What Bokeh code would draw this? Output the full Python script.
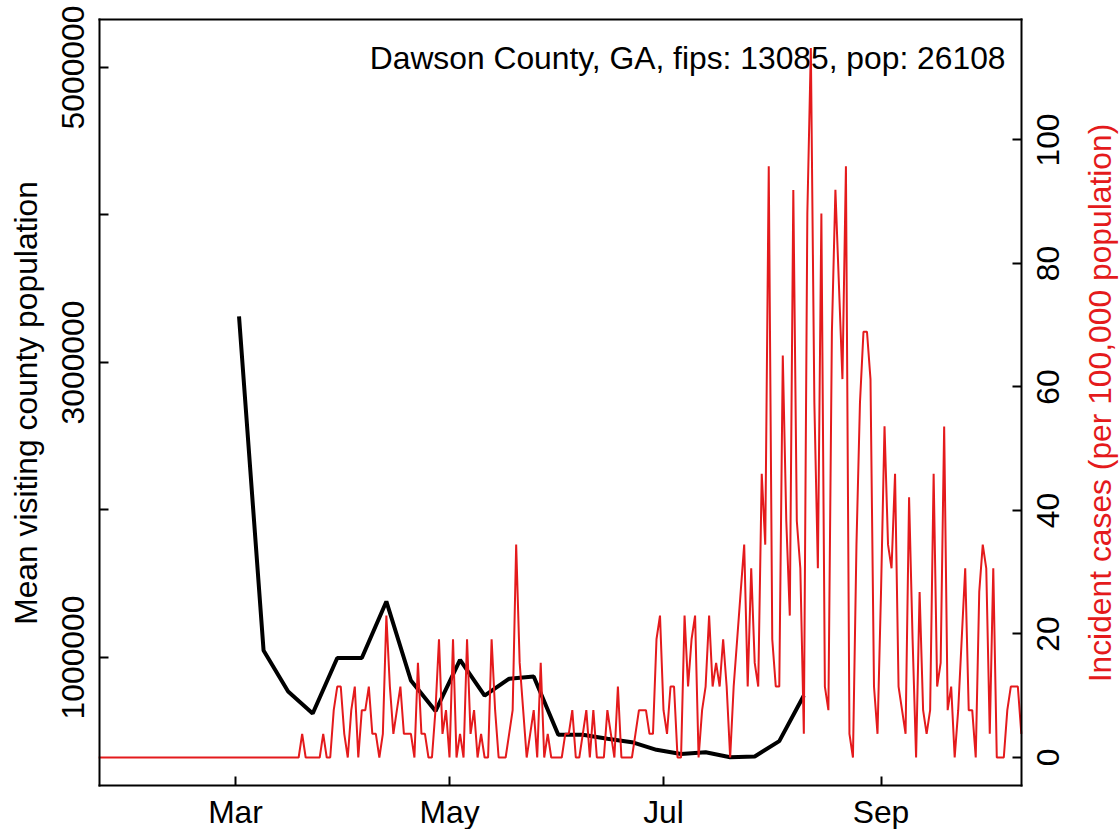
import math
import pandas as pd
from bokeh.plotting import figure
from bokeh.models import Range1d, LinearAxis, FixedTicker, Label, BasicTickFormatter
from bokeh.embed import file_html
from bokeh.resources import INLINE

# ---------------- data ----------------
origin = "2020-03-01"
x_tick_dates = ["2020-03-01", "2020-05-01", "2020-07-01", "2020-09-01"]
x_tick_labels = ["Mar", "May", "Jul", "Sep"]

left_ticks = [1000000, 3000000, 5000000]
left_minor_ticks = [2000000, 4000000]
right_ticks = [0, 20, 40, 60, 80, 100]

# daily incident cases per 100,000 population, starting 2020-01-22
red_start = "2020-01-22"
red_cases = [
    0, 0, 0, 0, 0, 0, 0, 0, 0, 0, 0, 0, 0, 0, 0, 0, 0, 0, 0, 0,
    0, 0, 0, 0, 0, 0, 0, 0, 0, 0, 0, 0, 0, 0, 0, 0, 0, 0, 0, 0,
    0, 0, 0, 0, 0, 0, 0, 0, 0, 0, 0, 0, 0, 0, 0, 0, 0, 0,
    3.83, 0, 0, 0, 0, 0, 3.83, 0, 0, 7.66, 11.49, 11.49, 3.83, 0, 7.66, 11.49,
    0, 7.66, 7.66, 11.49, 3.83, 3.83, 0, 3.83, 22.98, 11.49, 3.83, 7.66, 11.49,
    3.83, 3.83, 3.83, 0, 15.32, 3.83, 3.83, 0, 0, 7.66, 19.15, 3.83, 7.66, 0,
    19.15, 0, 3.83, 0, 19.15, 3.83, 7.66, 0, 3.83, 0, 0, 19.15, 7.66, 0, 0, 0,
    3.83, 7.66, 34.47, 15.32, 7.66, 0, 3.83, 7.66, 0, 15.32, 0, 3.83, 0, 0, 0,
    0, 3.83, 3.83, 7.66, 0, 0, 3.83, 7.66, 0, 7.66, 0, 0, 0, 7.66, 3.83, 0,
    11.49, 0, 0, 0, 0, 3.83, 7.66, 7.66, 7.66, 3.83, 3.83, 19.15, 22.98, 7.66,
    3.83, 11.49, 11.49, 0, 0, 22.98, 11.49, 19.15, 22.98, 0, 7.66, 11.49, 22.98,
    11.49, 15.32, 11.49, 19.15, 11.49, 0, 11.49, 19.15, 26.81, 34.47, 11.49,
    30.64, 15.32, 11.49, 45.96, 34.47, 95.75, 19.15, 11.49, 11.49, 65.11, 38.30,
    22.98, 91.92, 38.30, 30.64, 3.83, 88.09, 114.91, 57.45, 30.64, 88.09, 11.49,
    7.66, 68.94, 91.92, 76.60, 61.28, 95.75, 3.83, 0, 34.47, 57.45, 68.94, 68.94,
    61.28, 11.49, 3.83, 26.81, 53.62, 34.47, 30.64, 45.96, 11.49, 7.66, 3.83,
    42.13, 19.15, 0, 26.81, 7.66, 3.83, 7.66, 45.96, 11.49, 15.32, 53.62, 7.66,
    11.49, 0, 7.66, 19.15, 30.64, 7.66, 7.66, 0, 26.81, 34.47, 30.64, 3.83,
    30.64, 0, 0, 0, 7.66, 11.49, 11.49, 11.49, 3.83,
]

# weekly mean visiting county population, starting 2020-03-02
black_start = "2020-03-02"
black_visitors = [
    3312000, 1047000, 769000, 620000, 997000, 997000, 1380000, 844000,
    637000, 984000, 742000, 856000, 871000, 476000, 476000, 449000,
    426000, 374000, 346000, 358000, 324000, 329000, 433000, 742000,
]

title_text = "Dawson County, GA, fips: 13085, pop: 26108"
left_title = "Mean visiting county population"
right_title = "Incident cases (per 100,000 population)"

# ---------------- derived x positions (days since 1 March) ----------------
o = pd.Timestamp(origin)
red_x = list((pd.date_range(red_start, periods=len(red_cases), freq="D") - o).days)
black_x = list((pd.date_range(black_start, periods=len(black_visitors), freq="7D") - o).days)
tick_x = [(pd.Timestamp(d) - o).days for d in x_tick_dates]

# ---------------- layout constants ----------------
W, H = 1119, 829
FONT = "Liberation Sans"
FS = "31.8px"
RED = "#E41A1C"

# plot box (R's plotting region) in data units
BOX_X = (-38.77, 223.96)
BOX_Y = (132200, 5325400)
BOX_C = (-4.534, 119.51)

# the frame spans the whole canvas; the R box is drawn with bounded axes
p = figure(width=W, height=H, output_backend="svg", toolbar_location=None,
           x_range=Range1d(-66.99, 251.98), y_range=Range1d(-166100, 5454200),
           min_border_left=0, min_border_right=0, min_border_top=0,
           min_border_bottom=0)
p.extra_y_ranges = {"cases": Range1d(-11.66, 122.59)}
p.xgrid.visible = False
p.ygrid.visible = False
p.outline_line_color = None
p.background_fill_color = "white"
p.border_fill_color = "white"


def style_axis(ax, standoff):
    ax.axis_line_color = "black"
    ax.axis_line_width = 2
    ax.axis_line_cap = "square"
    ax.major_tick_in = 9
    ax.major_tick_out = 0
    ax.major_tick_line_width = 2
    ax.major_tick_line_color = "black"
    ax.minor_tick_in = 9
    ax.minor_tick_out = 0
    ax.minor_tick_line_width = 2
    ax.minor_tick_line_color = "black"
    ax.major_label_text_font = FONT
    ax.major_label_text_font_size = FS
    ax.major_label_text_color = "black"
    ax.major_label_standoff = standoff


# bottom axis
xa = p.xaxis[0]
xa.ticker = FixedTicker(ticks=tick_x)
xa.major_label_overrides = {t: l for t, l in zip(tick_x, x_tick_labels)}
xa.fixed_location = BOX_Y[0]
xa.bounds = BOX_X
style_axis(xa, 8)
xa.minor_tick_line_color = None

# left axis
ya = p.yaxis[0]
ya.ticker = FixedTicker(ticks=left_ticks, minor_ticks=left_minor_ticks)
ya.formatter = BasicTickFormatter(use_scientific=False)
ya.major_label_orientation = "vertical"
ya.fixed_location = BOX_X[0]
ya.bounds = BOX_Y
style_axis(ya, 15)

# right axis (red scale): tick marks; labels drawn as rotated texts below
ra = LinearAxis(y_range_name="cases", fixed_location=BOX_X[1], bounds=BOX_C)
ra.ticker = FixedTicker(ticks=right_ticks)
style_axis(ra, 0)
ra.major_label_text_color = None
ra.minor_tick_line_color = None
p.add_layout(ra, "right")

# top edge of the box
ta = LinearAxis(fixed_location=BOX_Y[1], bounds=BOX_X)
ta.ticker = FixedTicker(ticks=[])
style_axis(ta, 0)
ta.minor_tick_line_color = None
p.add_layout(ta, "above")

for t in right_ticks:
    p.add_layout(Label(x=1047.5, y=t, x_units="screen", y_units="data",
                       y_range_name="cases", text=str(t), angle=math.pi / 2,
                       text_align="center", text_baseline="middle",
                       text_font=FONT, text_font_size=FS, text_color="black"))

# annotation text (beneath the lines)
p.add_layout(Label(x=1005, y=H - 57, x_units="screen", y_units="screen",
                   text=title_text, text_align="right", text_baseline="middle",
                   text_font=FONT, text_font_size=FS, text_color="black",
                   level="underlay"))

# axis titles
p.add_layout(Label(x=25.5, y=H - 402.5, x_units="screen", y_units="screen",
                   text=left_title, angle=math.pi / 2, text_align="center",
                   text_baseline="middle", text_font=FONT,
                   text_font_size=FS, text_color="black"))
p.add_layout(Label(x=1099, y=H - 402.5, x_units="screen", y_units="screen",
                   text=right_title, angle=math.pi / 2, text_align="center",
                   text_baseline="middle", text_font=FONT,
                   text_font_size=FS, text_color=RED))

# lines
p.line(black_x, black_visitors, line_color="black", line_width=4)
p.line(red_x, red_cases, line_color=RED, line_width=2, y_range_name="cases")

open("out.html", "w").write(file_html(p, INLINE))
